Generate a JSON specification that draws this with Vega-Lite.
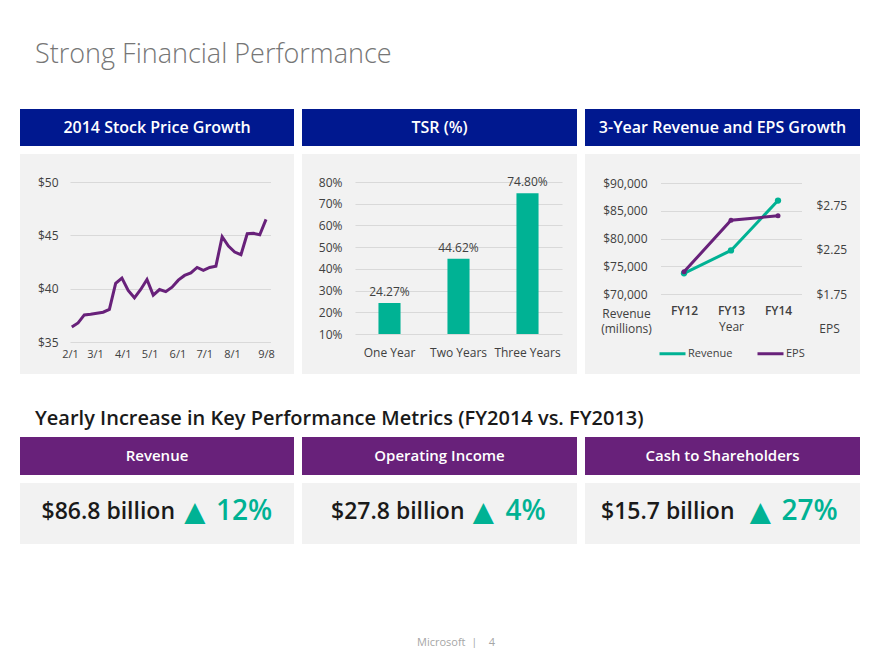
{
  "$schema": "https://vega.github.io/schema/vega-lite/v6.json",
  "background": "#ffffff",
  "padding": {"left": 20, "top": 41, "right": 20, "bottom": 0},
  "config": {
    "font": "Open Sans",
    "view": {"stroke": null},
    "axis": {"domain": false, "ticks": false, "tickSize": 0, "labelFlush": false, "labelOverlap": false, "labelFont": "Open Sans", "labelFontSize": 12, "labelColor": "#404040", "gridColor": "#d9d9d9", "gridWidth": 1, "titleFont": "Open Sans", "titleFontWeight": "normal", "titleColor": "#404040", "titleFontSize": 12},
    "title": {"font": "Open Sans", "baseline": "top"}
  },
  "title": {"text": "Strong Financial Performance", "anchor": "start", "dx": 15, "fontSize": 27, "fontWeight": 300, "color": "#767676", "offset": 40},
  "spacing": 8,
  "vconcat": [
    {
      "spacing": 8,
      "hconcat": [
        {"width": 274, "height": 37, "view": {"fill": "#00188f", "stroke": null}, "data": {"values": [{"label": "2014 Stock Price Growth"}]}, "mark": {"type": "text", "color": "#ffffff", "fontSize": 16, "fontWeight": 600}, "encoding": {"text": {"field": "label", "type": "nominal"}}},
        {"width": 275, "height": 37, "view": {"fill": "#00188f", "stroke": null}, "data": {"values": [{"label": "TSR (%)"}]}, "mark": {"type": "text", "color": "#ffffff", "fontSize": 16, "fontWeight": 600}, "encoding": {"text": {"field": "label", "type": "nominal"}}},
        {"width": 275, "height": 37, "view": {"fill": "#00188f", "stroke": null}, "data": {"values": [{"label": "3-Year Revenue and EPS Growth"}]}, "mark": {"type": "text", "color": "#ffffff", "fontSize": 16, "fontWeight": 600}, "encoding": {"text": {"field": "label", "type": "nominal"}}}
      ]
    },
    {
      "spacing": 8,
      "title": {"text": "Yearly Increase in Key Performance Metrics (FY2014 vs. FY2013)", "orient": "bottom", "anchor": "start", "dx": 15, "offset": 35, "fontSize": 20, "fontWeight": 600, "color": "#1a1a1a"},
      "hconcat": [
        {
          "width": 274, "height": 220, "view": {"fill": "#f2f2f2", "stroke": null},
          "data": {"values": [
            {"date": "2014-02-03", "price": 36.41}, {"date": "2014-02-10", "price": 36.79}, {"date": "2014-02-17", "price": 37.54}, {"date": "2014-02-24", "price": 37.60},
            {"date": "2014-03-03", "price": 37.70}, {"date": "2014-03-10", "price": 37.79}, {"date": "2014-03-17", "price": 38.05}, {"date": "2014-03-24", "price": 40.49},
            {"date": "2014-03-31", "price": 40.99}, {"date": "2014-04-07", "price": 39.83}, {"date": "2014-04-14", "price": 39.14}, {"date": "2014-04-21", "price": 39.92},
            {"date": "2014-04-28", "price": 40.86}, {"date": "2014-05-05", "price": 39.39}, {"date": "2014-05-12", "price": 39.92}, {"date": "2014-05-19", "price": 39.72},
            {"date": "2014-05-26", "price": 40.14}, {"date": "2014-06-02", "price": 40.80}, {"date": "2014-06-09", "price": 41.24}, {"date": "2014-06-16", "price": 41.48},
            {"date": "2014-06-23", "price": 41.99}, {"date": "2014-06-30", "price": 41.71}, {"date": "2014-07-07", "price": 41.99}, {"date": "2014-07-14", "price": 42.11},
            {"date": "2014-07-21", "price": 44.87}, {"date": "2014-07-28", "price": 43.99}, {"date": "2014-08-04", "price": 43.43}, {"date": "2014-08-11", "price": 43.18},
            {"date": "2014-08-18", "price": 45.15}, {"date": "2014-08-25", "price": 45.19}, {"date": "2014-09-01", "price": 45.06}, {"date": "2014-09-08", "price": 46.50}
          ]},
          "mark": {"type": "line", "color": "#68217a", "strokeWidth": 3},
          "encoding": {
            "x": {"field": "date", "type": "temporal", "title": null,
              "scale": {"type": "utc", "domain": [{"year": 2014, "month": 2, "date": 1, "utc": true}, {"year": 2014, "month": 9, "date": 13, "utc": true}], "range": [50, 250.5]},
              "axis": {"values": [
                {"year": 2014, "month": 2, "date": 1, "utc": true}, {"year": 2014, "month": 3, "date": 1, "utc": true}, {"year": 2014, "month": 4, "date": 1, "utc": true},
                {"year": 2014, "month": 5, "date": 1, "utc": true}, {"year": 2014, "month": 6, "date": 1, "utc": true}, {"year": 2014, "month": 7, "date": 1, "utc": true},
                {"year": 2014, "month": 8, "date": 1, "utc": true}, {"year": 2014, "month": 9, "date": 8, "utc": true}],
                "format": "%-m/%-d", "grid": false, "offset": -26, "labelPadding": 0, "labelFontSize": 11, "labelOverlap": false}},
            "y": {"field": "price", "type": "quantitative", "title": null,
              "scale": {"domain": [35, 50], "range": [188, 28]},
              "axis": {"values": [35, 40, 45, 50], "format": "$.0f", "grid": true, "offset": -40, "labelPadding": 2, "labelOverlap": false}}
          }
        },
        {
          "width": 275, "height": 220, "view": {"fill": "#f2f2f2", "stroke": null},
          "data": {"values": [
            {"period": "One Year", "tsr": 24.27, "label": "24.27%"},
            {"period": "Two Years", "tsr": 44.62, "label": "44.62%"},
            {"period": "Three Years", "tsr": 74.80, "label": "74.80%"}
          ]},
          "encoding": {
            "x": {"field": "period", "type": "nominal", "sort": null, "title": null,
              "scale": {"range": [53, 260], "paddingInner": 0.68, "paddingOuter": 0.34},
              "axis": {"labelAngle": 0, "offset": -27, "labelPadding": 0, "grid": false}},
            "y": {"field": "tsr", "type": "quantitative", "title": null,
              "scale": {"domain": [10, 80], "range": [180, 28]},
              "axis": {"values": [10, 20, 30, 40, 50, 60, 70, 80], "labelExpr": "datum.value + '%'", "offset": -42, "labelPadding": 2, "grid": true, "labelOverlap": false}}
          },
          "layer": [
            {"mark": {"type": "bar", "color": "#00b294"},
             "encoding": {"y2": {"datum": 10}}},
            {"mark": {"type": "text", "baseline": "bottom", "dy": -4, "fontSize": 12, "color": "#404040"},
             "encoding": {"text": {"field": "label", "type": "nominal"}}}
          ]
        },
        {
          "width": 275, "height": 220, "view": {"fill": "#f2f2f2", "stroke": null},
          "data": {"values": [
            {"year": "FY12", "series": "Revenue", "value": 73723},
            {"year": "FY13", "series": "Revenue", "value": 77849},
            {"year": "FY14", "series": "Revenue", "value": 86833},
            {"year": "FY12", "series": "EPS", "value": 2.00},
            {"year": "FY13", "series": "EPS", "value": 2.58},
            {"year": "FY14", "series": "EPS", "value": 2.63}
          ]},
          "layer": [
            {"transform": [{"filter": "datum.series === 'Revenue'"}],
             "mark": {"type": "line", "strokeWidth": 3, "point": {"filled": true, "size": 40}},
             "encoding": {
               "x": {"field": "year", "type": "ordinal", "title": "Year",
                 "scale": {"type": "point", "range": [75.5, 216.5], "padding": 0.5},
                 "axis": {"labelAngle": 0, "offset": -69, "labelPadding": 0, "titlePadding": 5, "grid": false, "labelFontWeight": 600}},
               "y": {"field": "value", "type": "quantitative", "title": ["Revenue", "(millions)"],
                 "scale": {"domain": [70000, 90000], "range": [140, 29]},
                 "axis": {"values": [70000, 75000, 80000, 85000, 90000], "format": "$,d", "offset": -64, "labelPadding": 2, "grid": true, "labelOverlap": false,
                   "titleAngle": 0, "titleAlign": "center", "titleBaseline": "top", "titleX": -23, "titleY": 154, "titleLineHeight": 15}},
               "color": {"field": "series", "type": "nominal",
                 "scale": {"domain": ["Revenue", "EPS"], "range": ["#00b294", "#68217a"]},
                 "legend": {"title": null, "orient": "none", "legendX": 638, "legendY": 230, "direction": "horizontal", "symbolType": "stroke", "symbolSize": 676, "symbolStrokeWidth": 3, "labelFontSize": 11, "labelColor": "#404040", "labelOffset": 1, "columnPadding": 18, "padding": 0}}
             }},
            {"transform": [{"filter": "datum.series === 'EPS'"}],
             "mark": {"type": "line", "strokeWidth": 3, "point": {"filled": true, "size": 25}},
             "encoding": {
               "x": {"field": "year", "type": "ordinal", "title": "Year"},
               "y": {"field": "value", "type": "quantitative", "title": "EPS",
                 "scale": {"domain": [1.75, 3.0], "range": [140, 29]},
                 "axis": {"orient": "right", "values": [1.75, 2.25, 2.75], "format": "$.2f", "offset": -46, "labelPadding": 2, "grid": false, "labelOverlap": false,
                   "titleAngle": 0, "titleAlign": "center", "titleBaseline": "top", "titleX": 15, "titleY": 169}},
               "color": {"field": "series", "type": "nominal"}
             }}
          ],
          "resolve": {"scale": {"y": "independent"}}
        }
      ]
    },
    {
      "spacing": 8,
      "hconcat": [
        {"width": 274, "height": 38, "view": {"fill": "#68217a", "stroke": null}, "data": {"values": [{"label": "Revenue"}]}, "mark": {"type": "text", "color": "#ffffff", "fontSize": 15, "fontWeight": 600}, "encoding": {"text": {"field": "label", "type": "nominal"}}},
        {"width": 275, "height": 38, "view": {"fill": "#68217a", "stroke": null}, "data": {"values": [{"label": "Operating Income"}]}, "mark": {"type": "text", "color": "#ffffff", "fontSize": 15, "fontWeight": 600}, "encoding": {"text": {"field": "label", "type": "nominal"}}},
        {"width": 275, "height": 38, "view": {"fill": "#68217a", "stroke": null}, "data": {"values": [{"label": "Cash to Shareholders"}]}, "mark": {"type": "text", "color": "#ffffff", "fontSize": 15, "fontWeight": 600}, "encoding": {"text": {"field": "label", "type": "nominal"}}}
      ]
    },
    {
      "spacing": 8,
      "title": {"text": "Microsoft\u00a0\u00a0|\u00a0\u00a0\u00a0\u00a04", "orient": "bottom", "anchor": "middle", "dx": 16, "offset": 93, "fontSize": 11, "fontWeight": "normal", "color": "#a6a6a6"},
      "hconcat": [
        {"width": 274, "height": 61, "view": {"fill": "#f2f2f2", "stroke": null},
         "data": {"values": [{"amount": "$86.8 billion", "arrow": "▲", "change": "12%"}]},
         "layer": [
           {"mark": {"type": "text", "align": "right", "dx": 18, "dy": -2, "fontSize": 23, "fontWeight": 600, "color": "#1a1a1a"}, "encoding": {"text": {"field": "amount", "type": "nominal"}}},
           {"mark": {"type": "text", "align": "left", "dx": 20, "dy": -1, "fontSize": 36, "color": "#00b294"}, "encoding": {"text": {"field": "arrow", "type": "nominal"}}},
           {"mark": {"type": "text", "align": "left", "dx": 59, "dy": -2, "fontSize": 28, "fontWeight": 600, "color": "#00b294"}, "encoding": {"text": {"field": "change", "type": "nominal"}}}
         ]},
        {"width": 275, "height": 61, "view": {"fill": "#f2f2f2", "stroke": null},
         "data": {"values": [{"amount": "$27.8 billion", "arrow": "▲", "change": "4%"}]},
         "layer": [
           {"mark": {"type": "text", "align": "right", "dx": 25, "dy": -2, "fontSize": 23, "fontWeight": 600, "color": "#1a1a1a"}, "encoding": {"text": {"field": "amount", "type": "nominal"}}},
           {"mark": {"type": "text", "align": "left", "dx": 26, "dy": -1, "fontSize": 36, "color": "#00b294"}, "encoding": {"text": {"field": "arrow", "type": "nominal"}}},
           {"mark": {"type": "text", "align": "left", "dx": 66, "dy": -2, "fontSize": 28, "fontWeight": 600, "color": "#00b294"}, "encoding": {"text": {"field": "change", "type": "nominal"}}}
         ]},
        {"width": 275, "height": 61, "view": {"fill": "#f2f2f2", "stroke": null},
         "data": {"values": [{"amount": "$15.7 billion", "arrow": "▲", "change": "27%"}]},
         "layer": [
           {"mark": {"type": "text", "align": "right", "dx": 12, "dy": -2, "fontSize": 23, "fontWeight": 600, "color": "#1a1a1a"}, "encoding": {"text": {"field": "amount", "type": "nominal"}}},
           {"mark": {"type": "text", "align": "left", "dx": 20, "dy": -1, "fontSize": 36, "color": "#00b294"}, "encoding": {"text": {"field": "arrow", "type": "nominal"}}},
           {"mark": {"type": "text", "align": "left", "dx": 59, "dy": -2, "fontSize": 28, "fontWeight": 600, "color": "#00b294"}, "encoding": {"text": {"field": "change", "type": "nominal"}}}
         ]}
      ]
    }
  ]
}
